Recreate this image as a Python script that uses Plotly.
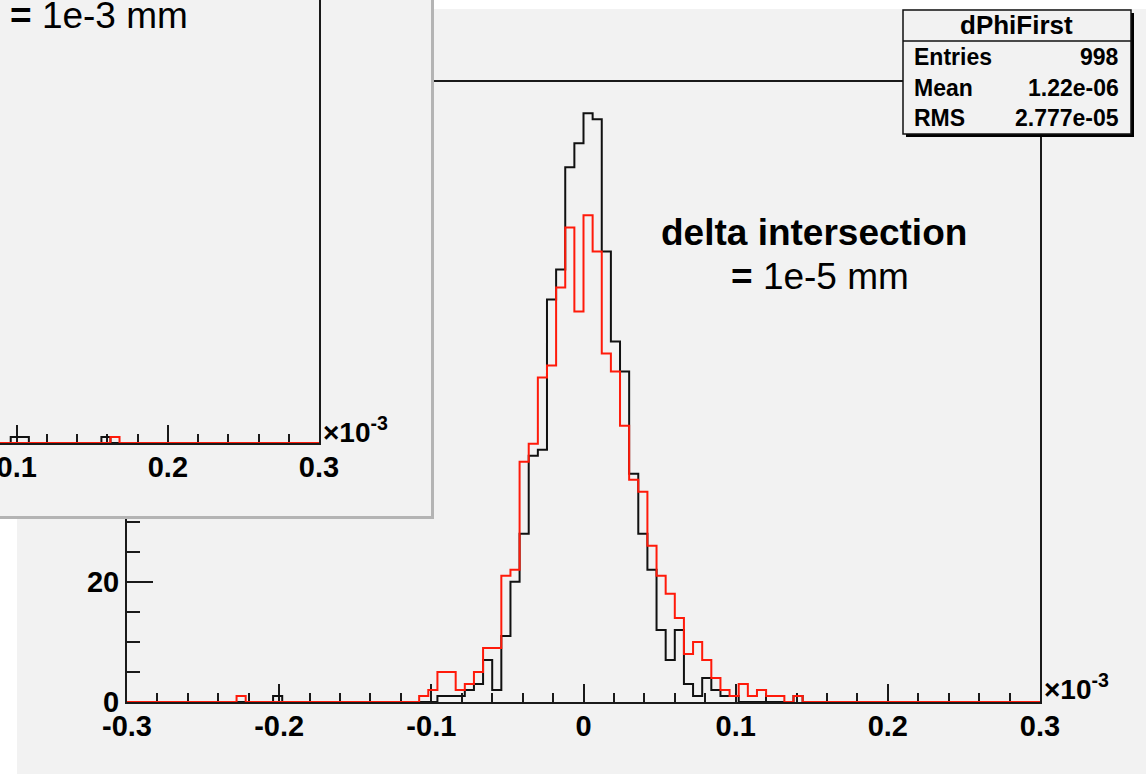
import plotly.graph_objects as go

W, H = 1146, 774

# ---------------- data ----------------
x_min, x_max, n_bins = -0.3, 0.3, 100          # units of 1e-3
# dPhiFirst (black), counts per bin, bins 0..99
black_counts = [
    0, 0, 0, 0, 0, 0, 0, 0, 0, 0,
    0, 0, 0, 0, 0, 0, 1, 0, 0, 0,
    0, 0, 0, 0, 0, 0, 0, 0, 0, 0,
    0, 0, 0, 0, 1, 1, 1, 2, 3, 7,
    2, 11, 20, 28, 41, 42, 67, 72, 89, 93,
    98, 97, 75, 60, 55, 38, 28, 22, 12, 7,
    12, 3, 1, 4, 2, 1, 1, 0, 0, 0,
    0, 0, 0, 1, 0, 0, 0, 0, 0, 0,
    0, 0, 0, 0, 0, 0, 0, 0, 0, 0,
    0, 0, 0, 0, 0, 0, 0, 0, 0, 0,
]
# red histogram
red_counts = [
    0, 0, 0, 0, 0, 0, 0, 0, 0, 0,
    0, 0, 1, 0, 0, 0, 0, 0, 0, 0,
    0, 0, 0, 0, 0, 0, 0, 0, 0, 0,
    0, 0, 1, 2, 5, 5, 2, 3, 5, 9,
    9, 21, 22, 40, 43, 54, 56, 69, 79, 65,
    81, 75, 58, 55, 46, 37, 35, 26, 21, 18,
    14, 8, 10, 7, 4, 2, 1, 3, 1, 2,
    1, 1, 0, 1, 0, 0, 0, 0, 0, 0,
    0, 0, 0, 0, 0, 0, 0, 0, 0, 0,
    0, 0, 0, 0, 0, 0, 0, 0, 0, 0,
]
# inset (partly visible other canvas): non-zero bins only
inset_black_bins = [66, 67, 76]
inset_black_vals = [1, 1, 1]
inset_red_bins = [77]
inset_red_vals = [1]

x_tickvals = [-0.3, -0.2, -0.1, 0.0, 0.1, 0.2, 0.3]
x_ticktext = ["-0.3", "-0.2", "-0.1", "0", "0.1", "0.2", "0.3"]
y_tickvals = [0, 20, 40, 60, 80, 100]
y_ticktext = ["0", "20", "40", "60", "80", "100"]
inset_tickvals = [0.1, 0.2, 0.3]
inset_ticktext = ["0.1", "0.2", "0.3"]

stats_title = "dPhiFirst"
stats_rows = [("Entries", "998"), ("Mean", "1.22e-06"), ("RMS", "2.777e-05")]

# ---------------- helpers ----------------
def fx(px):
    return px / W

def fy(py):
    return 1 - py / H

bw = (x_max - x_min) / n_bins
edges = [x_min + i * bw for i in range(n_bins + 1)]

def step(counts):
    return edges, list(counts) + [counts[-1]]

def full(bins, vals):
    c = [0] * n_bins
    for b, v in zip(bins, vals):
        c[b] = v
    return c

FONT = "Liberation Sans, Arial, Helvetica, sans-serif"
AX = "#1a1a1a"
BG = "#f2f2f2"

fig = go.Figure()

bx, by = step(black_counts)
rx, ry = step(red_counts)
fig.add_trace(go.Scatter(x=bx, y=by, mode="lines", line=dict(shape="hv", color="#111111", width=2),
                         xaxis="x", yaxis="y", hoverinfo="skip", showlegend=False))
fig.add_trace(go.Scatter(x=rx, y=ry, mode="lines", line=dict(shape="hv", color="#ff1a0a", width=2),
                         xaxis="x", yaxis="y", hoverinfo="skip", showlegend=False))

# panel (overlapping canvas) - empty subplot
fig.add_trace(go.Scatter(x=[None], y=[None], xaxis="x2", yaxis="y2", showlegend=False, hoverinfo="skip"))

# inset histogram
ibx, iby = step(full(inset_black_bins, inset_black_vals))
irx, iry = step(full(inset_red_bins, inset_red_vals))
fig.add_trace(go.Scatter(x=ibx, y=iby, mode="lines", line=dict(shape="hv", color="#111111", width=2),
                         xaxis="x3", yaxis="y3", hoverinfo="skip", showlegend=False))
fig.add_trace(go.Scatter(x=irx, y=iry, mode="lines", line=dict(shape="hv", color="#ff1a0a", width=2),
                         xaxis="x3", yaxis="y3", hoverinfo="skip", showlegend=False))

tickfont = dict(family=FONT, size=29, color="#000000", weight="bold")

fig.update_layout(
    template="none",
    width=W, height=H,
    margin=dict(l=0, r=0, t=0, b=0, pad=0, autoexpand=False),
    paper_bgcolor="white",
    plot_bgcolor=BG,
    showlegend=False,
    xaxis=dict(
        domain=[fx(127), fx(1040)], range=[x_min, x_max], anchor="y", automargin=False,
        showline=True, linecolor=AX, linewidth=2, mirror=True,
        ticks="inside", ticklen=18, tickwidth=2, tickcolor=AX,
        tickmode="array", tickvals=x_tickvals, ticktext=x_ticktext,
        minor=dict(dtick=0.02, tick0=-0.3, ticks="inside", ticklen=9, tickwidth=2, tickcolor=AX),
        tickfont=tickfont, showgrid=False, zeroline=False, layer="below traces",
        ticklabelstandoff=-3, ticklabeloverflow="allow",
    ),
    yaxis=dict(
        domain=[fy(702), fy(82)], range=[0, 103.2], anchor="x", automargin=False,
        showline=True, linecolor=AX, linewidth=2, mirror=True,
        ticks="inside", ticklen=26, tickwidth=2, tickcolor=AX,
        tickmode="array", tickvals=y_tickvals, ticktext=y_ticktext,
        minor=dict(dtick=5, tick0=0, ticks="inside", ticklen=13, tickwidth=2, tickcolor=AX),
        tickfont=tickfont, showgrid=False, zeroline=False, layer="below traces",
        ticklabelstandoff=0, ticklabeloverflow="allow",
    ),
    xaxis2=dict(
        domain=[0, fx(431)], range=[0, 1], anchor="y2", automargin=False,
        showline=True, linecolor="#b4b4b4", linewidth=3,
        showticklabels=False, ticks="", showgrid=False, zeroline=False,
    ),
    yaxis2=dict(
        domain=[fy(516), 1], range=[0, 1], anchor="x2", side="right", automargin=False,
        showline=True, linecolor="#b4b4b4", linewidth=3,
        showticklabels=False, ticks="", showgrid=False, zeroline=False,
    ),
    xaxis3=dict(
        domain=[0, fx(319)], range=[0.0889, 0.3], anchor="y3", automargin=False,
        showline=True, linecolor=AX, linewidth=2,
        ticks="inside", ticklen=18, tickwidth=2, tickcolor=AX,
        tickmode="array", tickvals=inset_tickvals, ticktext=inset_ticktext,
        minor=dict(dtick=0.02, tick0=0.1, ticks="inside", ticklen=9, tickwidth=2, tickcolor=AX),
        tickfont=tickfont, showgrid=False, zeroline=False, layer="below traces",
        ticklabelstandoff=-3, ticklabeloverflow="allow",
    ),
    yaxis3=dict(
        domain=[fy(443), 1], range=[0, 74], anchor="x3", side="right", automargin=False,
        showline=True, linecolor=AX, linewidth=2,
        showticklabels=False, ticks="", showgrid=False, zeroline=False,
    ),
)

shapes = []
# main ROOT canvas background
shapes.append(dict(type="rect", xref="paper", yref="paper", x0=fx(17), x1=1, y0=0, y1=fy(9),
                   fillcolor=BG, line=dict(width=0), layer="below"))
# stats box: shadow, box, separator
shapes.append(dict(type="rect", xref="paper", yref="paper", x0=fx(906), x1=fx(1134), y0=fy(137), y1=fy(13),
                   fillcolor="#000000", line=dict(width=0), layer="above"))
shapes.append(dict(type="rect", xref="paper", yref="paper", x0=fx(903), x1=fx(1131), y0=fy(134), y1=fy(10),
                   fillcolor=BG, line=dict(color="#111111", width=1.5), layer="above"))
shapes.append(dict(type="line", xref="paper", yref="paper", x0=fx(903), x1=fx(1131), y0=fy(41), y1=fy(41),
                   line=dict(color="#111111", width=1.5), layer="above"))
fig.update_layout(shapes=shapes)

ann = []
def text(t, px, py, size, xanchor="center", bold=False):
    ann.append(dict(text=t, x=fx(px), y=fy(py), xref="paper", yref="paper", showarrow=False,
                    xanchor=xanchor, yanchor="middle",
                    font=dict(family=FONT, size=size, color="#000000", weight="bold" if bold else "normal")))

text("×10<sup>-3</sup>", 1042, 687, 28, "left", True)
text("×10<sup>-3</sup>", 321, 430, 28, "left", True)
text("<b>=</b> 1e-3 mm", 8, 15, 37, "left")
text("<b>delta intersection</b>", 814, 232, 37)
text("<b>=</b> 1e-5 mm", 820, 276, 37)
text("<b>%s</b>" % stats_title, 1016, 25, 26)
row_y = [57, 88, 118]
for (lab, val), yy in zip(stats_rows, row_y):
    text("<b>%s</b>" % lab, 912, yy, 23, "left")
    text("<b>%s</b>" % val, 1121, yy, 23, "right")
fig.update_layout(annotations=ann)

fig.write_html("out.html")
